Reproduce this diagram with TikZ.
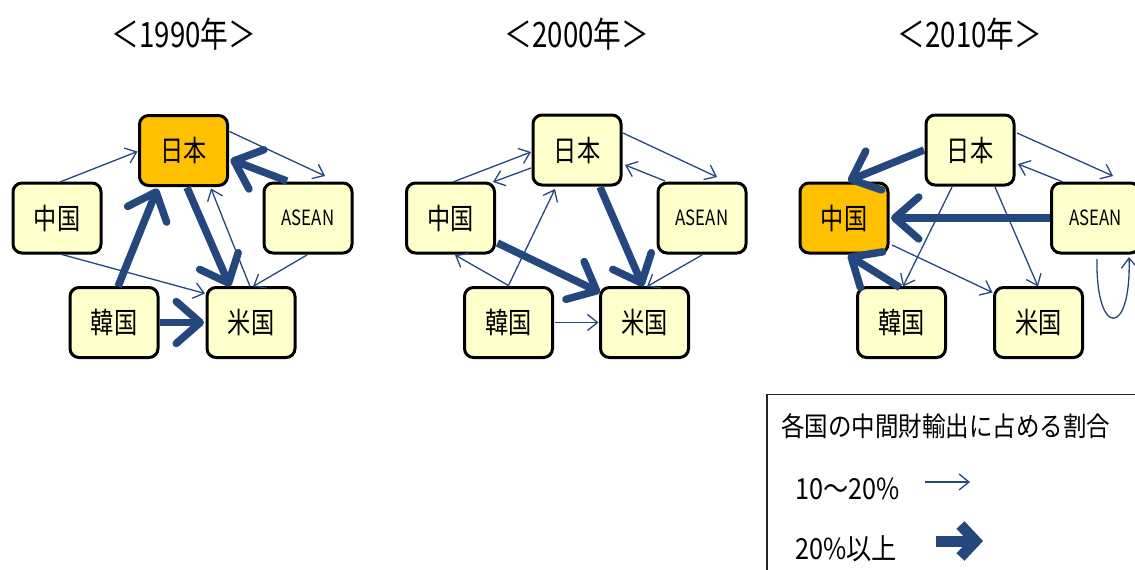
\documentclass[tikz,border=0pt]{standalone}
\usepackage{fontspec}
\setmainfont{Noto Sans CJK JP}
\newfontfamily\boxfont[FakeStretch=0.8]{Noto Sans CJK JP}
\newfontfamily\titlefont[FakeStretch=0.79]{Noto Sans CJK JP}
\newfontfamily\legfont[FakeStretch=0.87]{Noto Sans CJK JP}
\usetikzlibrary{arrows.meta,calc}
\definecolor{arrblue}{RGB}{36,72,126}
\definecolor{boxyellow}{RGB}{255,255,204}
\definecolor{boxorange}{RGB}{255,192,0}
\tikzset{
  cbox/.style={draw=black, line width=3pt, rounded corners=9pt, fill=boxyellow,
    minimum width=88pt, minimum height=70pt, inner sep=0pt,
    font=\boxfont\fontsize{29}{32}\selectfont},
  hl/.style={fill=boxorange},
  asean/.style={font=\boxfont\fontsize{21}{23}\selectfont},
  thinarr/.style={draw=arrblue, line width=1.3pt, -{Straight Barb[length=10pt,width=16pt]}},
  thickarr/.style={draw=arrblue, line width=7.5pt, -{Straight Barb[length=24pt,width=42pt,round]}},
  ttl/.style={inner sep=0pt, font=\titlefont\fontsize{35}{38}\selectfont},
  legtxt/.style={inner sep=0pt, anchor=west, font=\legfont\fontsize{27}{30}\selectfont},
  legnum/.style={inner sep=0pt, anchor=west, font=\legfont\fontsize{29}{32}\selectfont}
}
\begin{document}
\begin{tikzpicture}[x=1pt,y=-1pt]
\useasboundingbox (0,0) rectangle (1135,570);
\fill[white] (0,0) rectangle (1135,570);

% titles
\node[ttl] (t1) at (184,34) {＜1990年＞};
\node[ttl] (t2) at (577,34) {＜2000年＞};
\node[ttl] (t3) at (970,34) {＜2010年＞};

% ---------- 1990 ----------
\node[cbox,hl] (p1jp) at (183.5,150.5) {日本};
\node[cbox] (p1cn) at (57,218) {中国};
\node[cbox,asean] (p1as) at (308,218) {ASEAN};
\node[cbox] (p1kr) at (114,322.5) {韓国};
\node[cbox] (p1us) at (251,322.5) {米国};

\draw[thinarr] ($(p1cn)+(3,-36)$) -- ($(p1jp)+(-46,1)$);
\draw[thinarr] ($(p1cn)+(3,36)$) -- ($(p1us)+(-46,-29)$);
\draw[thickarr] ($(p1kr)+(4,-36)$) -- ($(p1jp)+(-26,38)$);
\draw[thickarr] ($(p1jp)+(3.5,37)$) -- ($(p1us)+(-21,-36)$);
\draw[thinarr] ($(p1us)+(-1,-36)$) -- ($(p1jp)+(27.5,38)$);
\draw[thickarr] ($(p1as)+(-21,-37)$) -- ($(p1jp)+(47,9)$);
\draw[thinarr] ($(p1jp)+(46,-19)$) -- ($(p1as)+(17,-42)$);
\draw[thinarr] ($(p1as)+(-1,37)$) -- ($(p1us)+(2,-36)$);
\draw[thickarr] ($(p1kr)+(46,0)$) -- ($(p1us)+(-47,0)$);

% ---------- 2000 ----------
\node[cbox] (p2jp) at (577,150) {日本};
\node[cbox] (p2cn) at (450.5,218) {中国};
\node[cbox,asean] (p2as) at (702,218) {ASEAN};
\node[cbox] (p2kr) at (508.5,322.5) {韓国};
\node[cbox] (p2us) at (644.5,322.5) {米国};

\draw[thinarr] ($(p2cn)+(2.5,-36)$) -- ($(p2jp)+(-46,2)$);
\draw[thinarr] ($(p2jp)+(-46,18)$) -- ($(p2cn)+(42.5,-36)$);
\draw[thinarr] ($(p2kr)+(0,-37)$) -- ($(p2jp)+(-22,39)$);
\draw[thinarr] ($(p2kr)+(0,-37)$) -- ($(p2cn)+(4.5,37)$);
\draw[thickarr] ($(p2cn)+(47,25)$) -- ($(p2us)+(-44.5,-30)$);
\draw[thickarr] ($(p2jp)+(23,37)$) -- ($(p2us)+(-1.5,-36)$);
\draw[thinarr] ($(p2jp)+(46,-17)$) -- ($(p2as)+(15,-41)$);
\draw[thinarr] ($(p2as)+(-37,-37)$) -- ($(p2jp)+(48,15)$);
\draw[thinarr] ($(p2as)+(0,37)$) -- ($(p2us)+(2.5,-36)$);
\draw[thinarr] ($(p2kr)+(46,0)$) -- ($(p2us)+(-46,0)$);

% ---------- 2010 ----------
\node[cbox] (p3jp) at (970,150) {日本};
\node[cbox,hl] (p3cn) at (844,218) {中国};
\node[cbox,asean] (p3as) at (1095.5,218) {ASEAN};
\node[cbox] (p3kr) at (901.5,322.5) {韓国};
\node[cbox] (p3us) at (1038.5,322.5) {米国};

\draw[thickarr] ($(p3jp)+(-46,0)$) -- ($(p3cn)+(4,-37)$);
\draw[thickarr] ($(p3as)+(-46,0)$) -- ($(p3cn)+(47,0)$);
\draw[thickarr] ($(p3kr)+(-1.5,-35)$) -- ($(p3cn)+(4,37)$);
\draw[thinarr] ($(p3jp)+(-18,37)$) -- ($(p3kr)+(1.5,-36)$);
\draw[thinarr] ($(p3jp)+(25,37)$) -- ($(p3us)+(-0.5,-36)$);
\draw[thinarr] ($(p3cn)+(48,27)$) -- ($(p3us)+(-46,-30)$);
\draw[thinarr] ($(p3jp)+(47,-17)$) -- ($(p3as)+(17.5,-42)$);
\draw[thinarr] ($(p3as)+(-32.5,-36)$) -- ($(p3jp)+(48,14)$);
\draw[thinarr] ($(p3as)+(1.5,41)$) .. controls ($(p3as)+(0,120)$) and ($(p3as)+(36,120)$) .. ($(p3as)+(33.5,39)$);

% ---------- legend ----------
\draw[line width=1.5pt, draw=black!85] (767,570) -- (767,394.5) -- (1135,394.5);
\node[legtxt] (lgt) at (781,426) {各国の中間財輸出に占める割合};
\node[legnum] (lg1) at (795,489) {10〜20\%};
\node[legnum] (lg2) at (795,549) {20\%以上};
\coordinate (la1) at (925,482);
\coordinate (lb1) at (970,482);
\coordinate (la2) at (936,541);
\coordinate (lb2) at (983,541);
\draw[thinarr] (la1) -- (lb1);
\draw[draw=arrblue, line width=11pt, -{Straight Barb[length=15pt,width=32pt]}] (la2) -- (lb2);
\end{tikzpicture}
\end{document}
